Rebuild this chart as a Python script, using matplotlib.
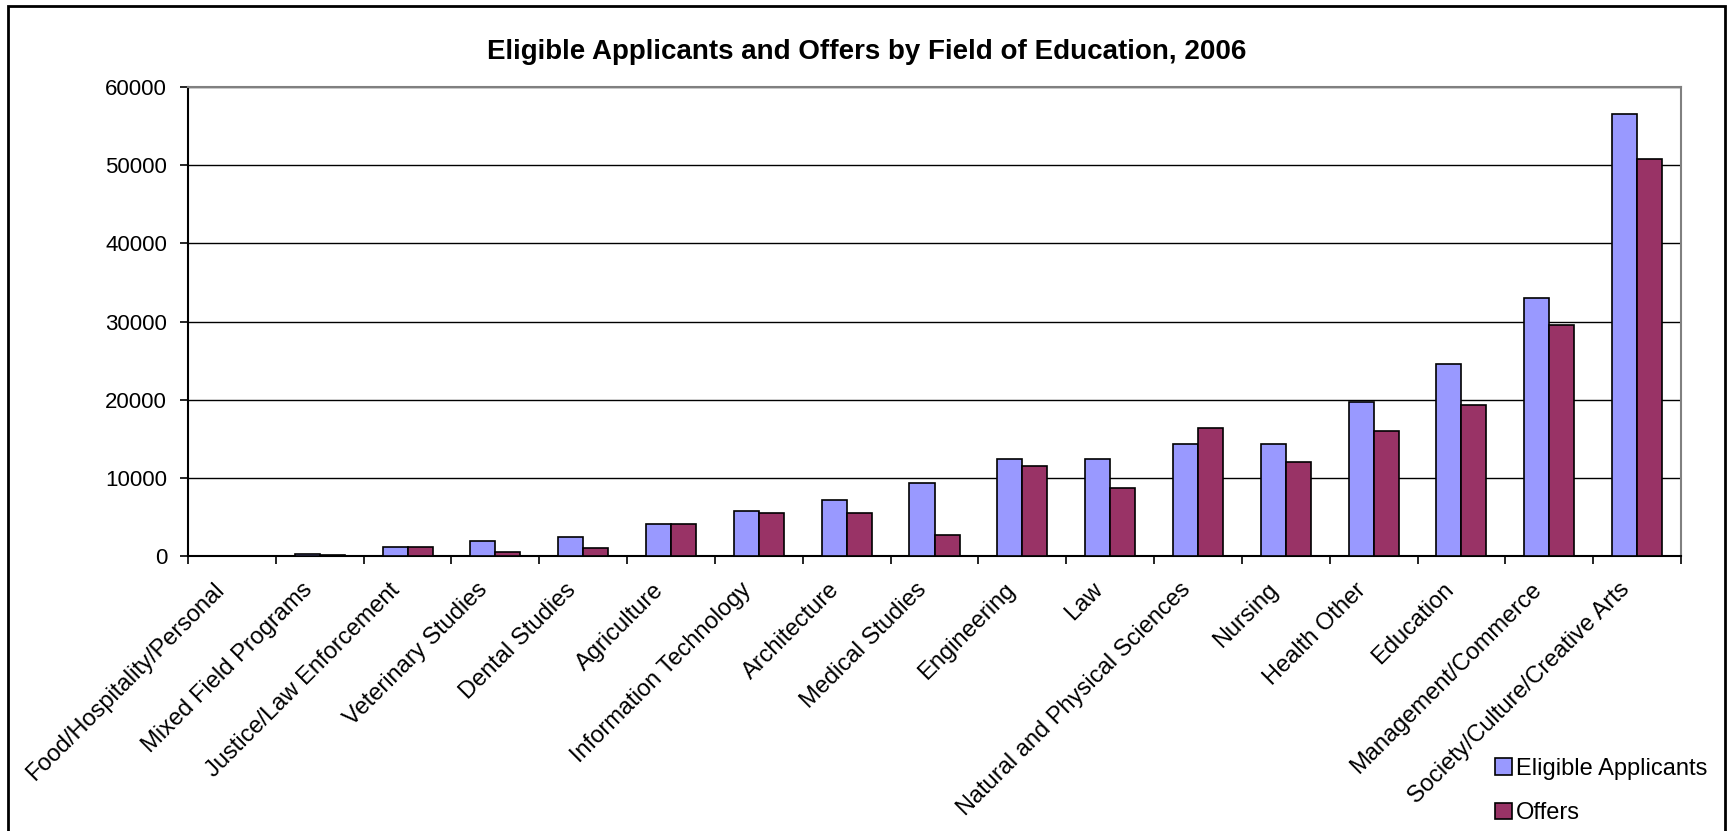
import matplotlib
matplotlib.use("Agg")
import matplotlib.pyplot as plt
import matplotlib.transforms as mtransforms
import numpy as np
from matplotlib.patches import Rectangle

plt.rcParams['font.family'] = ['Liberation Sans', 'DejaVu Sans']

# fields, sorted by number of eligible applicants
fields = ['Food/Hospitality/Personal', 'Mixed Field Programs', 'Justice/Law Enforcement',
          'Veterinary Studies', 'Dental Studies', 'Agriculture', 'Information Technology',
          'Architecture', 'Medical Studies', 'Engineering', 'Law',
          'Natural and Physical Sciences', 'Nursing', 'Health Other', 'Education',
          'Management/Commerce', 'Society/Culture/Creative Arts']
eligible = [0, 200, 1190, 1960, 2390, 4100, 5700, 7180, 9300, 12400, 12400,
            14300, 14300, 19700, 24500, 33000, 56600]
offers = [0, 150, 1190, 510, 980, 4100, 5500, 5490, 2680, 11450, 8700,
          16400, 12000, 16000, 19300, 29500, 50800]

fig = plt.figure(figsize=(17.27, 8.31), dpi=100)
W, H = 1727, 831
ax = fig.add_axes([188 / W, 1 - 556 / H, (1681 - 188) / W, (556 - 87) / H])

x = np.arange(len(fields))
w = 0.285
ax.bar(x - w / 2, eligible, w, color='#9999FF', edgecolor='black', linewidth=1.2,
       label='Eligible Applicants', zorder=3)
ax.bar(x + w / 2, offers, w, color='#993366', edgecolor='black', linewidth=1.2,
       label='Offers', zorder=3)

ax.set_xlim(-0.5, len(fields) - 0.5)
ax.set_ylim(0, 60000)
ax.set_yticks(range(0, 60001, 10000))
ax.tick_params(axis='y', direction='out', length=6, width=1.2, labelsize=16, pad=9)
ax.grid(axis='y', color='black', linewidth=1.0, zorder=0)

# ticks between categories, labels centred on each category
ax.set_xticks(np.arange(-0.5, len(fields), 1.0))
ax.set_xticklabels([])
ax.tick_params(axis='x', which='major', direction='out', length=6, width=1.2)
ax.set_xticks(x, minor=True)
ax.set_xticklabels(fields, minor=True, rotation=45, ha='right', va='center',
                   rotation_mode='anchor', fontsize=17)
ax.tick_params(axis='x', which='minor', length=0, pad=22)
shift = mtransforms.ScaledTranslation(-0.11, 0, fig.dpi_scale_trans)
for lbl in ax.get_xticklabels(minor=True):
    lbl.set_transform(lbl.get_transform() + shift)

for s in ['top', 'right']:
    ax.spines[s].set_color('#808080')
    ax.spines[s].set_linewidth(1.5)
for s in ['left', 'bottom']:
    ax.spines[s].set_color('black')
    ax.spines[s].set_linewidth(1.5)

fig.text(0.502, 1 - 52 / H, 'Eligible Applicants and Offers by Field of Education, 2006',
         ha='center', va='center', fontsize=20, fontweight='bold')

fig.legend(loc='center left', bbox_to_anchor=(1495 / W, 1 - 791 / H), frameon=False,
           fontsize=17, handlelength=0.7, handleheight=0.7, handletextpad=0.2,
           labelspacing=0.95, borderpad=0, borderaxespad=0)

# outer chart border
fig.patches.append(Rectangle((8 / W, -0.02), (1725 - 8) / W, 1.02 - 6 / H,
                             transform=fig.transFigure, fill=False,
                             edgecolor='black', linewidth=2))

fig.savefig('out.png', dpi=100)
